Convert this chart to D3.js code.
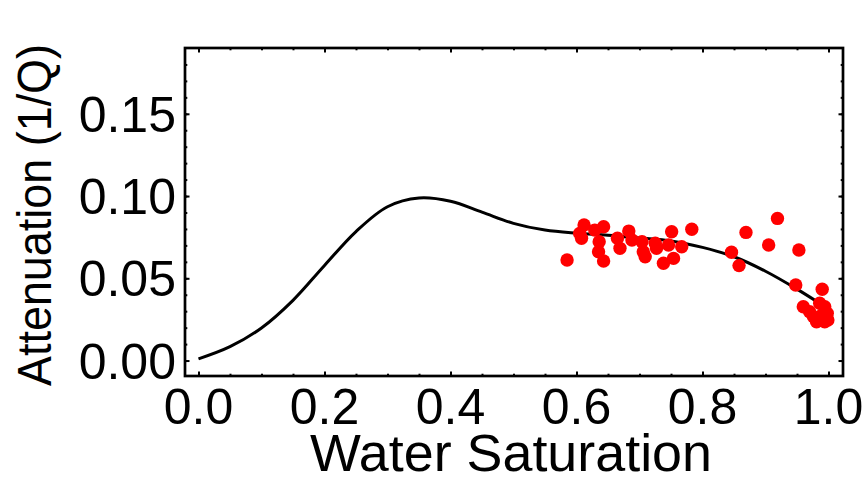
<!DOCTYPE html>
<html>
<head>
<meta charset="utf-8">
<script src="https://cdn.jsdelivr.net/npm/d3@7"></script>
<style>
  body { margin: 0; background: #fff; }
  text { font-family: "Liberation Sans", Arial, sans-serif; fill: #000; }
</style>
</head>
<body>
<script>
// Attenuation vs water saturation: model curve + measured points

var width = 867;
var height = 490;

// model curve
var curveSw = [0.00, 0.05, 0.10, 0.15, 0.20, 0.25, 0.30, 0.35, 0.40, 0.45, 0.50,
               0.55, 0.60, 0.65, 0.70, 0.75, 0.80, 0.85, 0.90, 0.95, 1.00];
var curveQ  = [0.001, 0.0084, 0.0198, 0.0366, 0.0578, 0.0784, 0.0935, 0.0988, 0.0968, 0.0902, 0.0834,
               0.0793, 0.0774, 0.0762, 0.0745, 0.0727, 0.0688, 0.0631, 0.0543, 0.0434, 0.0313];

// measured points
var pointSw = [0.585, 0.605, 0.612, 0.608, 0.629, 0.643, 0.636, 0.635, 0.643, 0.665,
               0.669, 0.683, 0.688, 0.704, 0.709, 0.706, 0.725, 0.727, 0.738, 0.746,
               0.751, 0.754, 0.767, 0.783, 0.846, 0.858, 0.869, 0.905, 0.919, 0.953,
               0.948, 0.990, 0.960, 0.986, 0.994, 0.998, 0.999, 0.976, 0.981, 0.970,
               0.990, 0.994];
var pointQ  = [0.0611, 0.0773, 0.0824, 0.0743, 0.0793, 0.0813, 0.0722, 0.0662, 0.0605, 0.0743,
               0.0682, 0.0787, 0.0733, 0.0722, 0.0631, 0.0662, 0.0713, 0.0682, 0.0591, 0.0702,
               0.0783, 0.0621, 0.0692, 0.0798, 0.0658, 0.0577, 0.0779, 0.0702, 0.0864, 0.0672,
               0.0459, 0.0433, 0.0327, 0.0348, 0.0327, 0.0287, 0.0247, 0.0267, 0.0236, 0.0297,
               0.0277, 0.0236];

var xMajor = [0, 0.2, 0.4, 0.6, 0.8, 1.0];
var yMajor = [0, 0.05, 0.10, 0.15];

// plot box (note: "top" is taken by window.top)
var boxL = 185, boxR = 843, boxT = 48, boxB = 376;

var xScale = d3.scaleLinear().domain([-0.0214, 1.023]).range([boxL, boxR]);
var yScale = d3.scaleLinear().domain([-0.0094, 0.19]).range([boxB, boxT]);

var svg = d3.select("body").append("svg")
    .attr("width", width)
    .attr("height", height);

var curveData = curveSw.map(function(d, i){ return [d, curveQ[i]]; });
var pointData = pointSw.map(function(d, i){ return [d, pointQ[i]]; });

// curve
var line = d3.line()
    .x(function(d){ return xScale(d[0]); })
    .y(function(d){ return yScale(d[1]); })
    .curve(d3.curveCatmullRom);

svg.append("path")
   .datum(curveData)
   .attr("d", line)
   .attr("fill", "none")
   .attr("stroke", "#000")
   .attr("stroke-width", 3);

// points
svg.selectAll("circle")
   .data(pointData)
   .enter()
   .append("circle")
   .attr("cx", function(d){ return xScale(d[0]); })
   .attr("cy", function(d){ return yScale(d[1]); })
   .attr("r", 6.7)
   .attr("fill", "#ff0000");

// frame ticks, all four sides, pointing inward
var xMinor = d3.range(0, 1.0001, 0.05);
var yMinor = d3.range(0, 0.1801, 0.01);

function tickAxis(axisFn, scale, minor, major, transform) {
  svg.append("g")
     .attr("transform", transform)
     .call(axisFn(scale).tickValues(minor).tickSize(-2.3).tickFormat(""))
     .call(function(g){ g.select(".domain").remove(); })
     .selectAll("line").attr("stroke-width", 2);
  svg.append("g")
     .attr("transform", transform)
     .call(axisFn(scale).tickValues(major).tickSize(-4.5).tickFormat(""))
     .call(function(g){ g.select(".domain").remove(); })
     .selectAll("line").attr("stroke-width", 2);
}

tickAxis(d3.axisBottom, xScale, xMinor, xMajor, "translate(0," + boxB + ")");
tickAxis(d3.axisTop, xScale, xMinor, xMajor, "translate(0," + boxT + ")");
tickAxis(d3.axisLeft, yScale, yMinor, yMajor, "translate(" + boxL + ",0)");
tickAxis(d3.axisRight, yScale, yMinor, yMajor, "translate(" + boxR + ",0)");

// frame
svg.append("rect")
   .attr("x", boxL).attr("y", boxT)
   .attr("width", boxR - boxL).attr("height", boxB - boxT)
   .attr("fill", "none")
   .attr("stroke", "#000")
   .attr("stroke-width", 2.7);

// tick labels
svg.selectAll(".xlab")
   .data(xMajor)
   .enter()
   .append("text")
   .attr("class", "xlab")
   .attr("x", function(d){ return xScale(d); })
   .attr("y", 424)
   .attr("text-anchor", "middle")
   .style("font-size", "50px")
   .text(function(d){ return d3.format(".1f")(d); });

svg.selectAll(".ylab")
   .data(yMajor)
   .enter()
   .append("text")
   .attr("class", "ylab")
   .attr("x", 176)
   .attr("y", function(d){ return yScale(d) + 18; })
   .attr("text-anchor", "end")
   .style("font-size", "50px")
   .text(function(d){ return d3.format(".2f")(d); });

// axis titles
svg.append("text")
   .attr("x", 511)
   .attr("y", 471)
   .attr("text-anchor", "middle")
   .style("font-size", "51px")
   .attr("textLength", 402)
   .attr("lengthAdjust", "spacingAndGlyphs")
   .text("Water Saturation");

svg.append("text")
   .attr("transform", "translate(51," + 215 + ") rotate(-90)")
   .attr("text-anchor", "middle")
   .style("font-size", "48px")
   .attr("textLength", 342)
   .attr("lengthAdjust", "spacingAndGlyphs")
   .text("Attenuation (1/Q)");
</script>
</body>
</html>
